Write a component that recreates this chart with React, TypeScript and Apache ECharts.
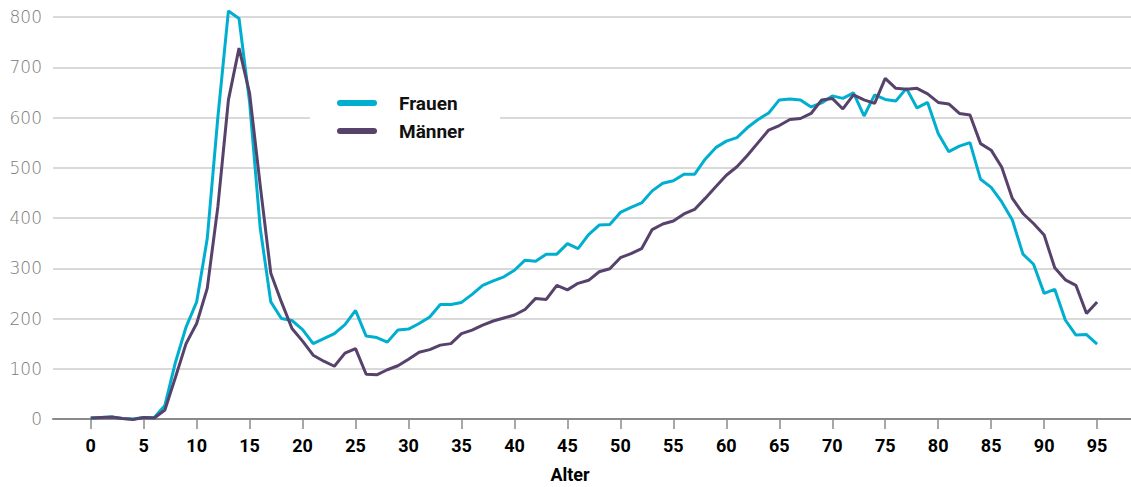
import React, { useEffect, useRef } from "react";
import * as echarts from "echarts";

const ages: number[] = Array.from({ length: 96 }, (_, i) => i);
const xTickValues = [0, 5, 10, 15, 20, 25, 30, 35, 40, 45, 50, 55, 60, 65, 70, 75, 80, 85, 90, 95];
const yTicks = [0, 100, 200, 300, 400, 500, 600, 700, 800];

const frauen = [
  2, 3, 4, 1, 0, 3, 3, 27, 113, 183,
  233, 359, 600, 812, 797, 630, 380, 233, 200, 196,
  178, 150, 160, 170, 188, 216, 165, 162, 153, 177,
  179, 190, 203, 228, 228, 232, 248, 266, 275, 283,
  296, 316, 314, 328, 328, 349, 339, 367, 386, 387,
  411, 421, 430, 454, 469, 474, 487, 487, 517, 540,
  553, 560, 580, 596, 609, 635, 637, 635, 621, 629,
  643, 638, 649, 603, 645, 636, 633, 658, 619, 630,
  568, 532, 543, 550, 477, 461, 432, 396, 328, 308,
  250, 258, 197, 167, 168, 149,
];

const maenner = [
  2, 3, 4, 1, -1, 3, 2, 18, 83, 150,
  190, 260, 422, 635, 738, 648, 465, 290, 233, 180,
  155, 127, 115, 105, 131, 140, 89, 88, 98, 106,
  119, 133, 138, 147, 150, 170, 177, 187, 195, 201,
  207, 218, 240, 238, 266, 257, 270, 276, 293, 299,
  321, 329, 339, 377, 388, 394, 408, 417, 439, 462,
  485, 502, 525, 550, 575, 584, 596, 598, 608, 635,
  638, 617, 645, 635, 628, 678, 658, 656, 658, 647,
  630, 627, 608, 605, 548, 535, 501, 439, 409, 389,
  366, 301, 277, 266, 210, 233,
];

const seriesNames = ["Frauen", "Männer"];
const colors = ["#00AFD0", "#56426B"];
const xAxisTitle = "Alter";

const legendIcon =
  "path://M3,0 L37,0 A3,3 0 0 1 37,6 L3,6 A3,3 0 0 1 3,0 Z";

export default function App() {
  const ref = useRef<HTMLDivElement>(null);

  useEffect(() => {
    document.body.style.margin = "0";
    if (!ref.current) return;
    const chart = echarts.init(ref.current, undefined, { renderer: "svg" });
    const boldFont = "Roboto, 'Noto Sans', sans-serif";
    chart.setOption({
      animation: false,
      backgroundColor: "#ffffff",
      grid: { left: 53, right: 0, top: 17, bottom: 68, containLabel: false },
      legend: {
        show: true,
        orient: "vertical",
        left: 337,
        top: 93,
        padding: 0,
        itemWidth: 40,
        itemHeight: 6,
        itemGap: 8,
        icon: legendIcon,
        data: seriesNames,
        textStyle: {
          fontFamily: boldFont,
          fontWeight: "bold",
          fontSize: 19,
          lineHeight: 20,
          color: "#111111",
          padding: [0, 0, 0, 17],
        },
      },
      xAxis: {
        type: "value",
        min: -3.56,
        max: 98.2,
        axisLine: { show: true, lineStyle: { color: "#8a8a8a", width: 2 } },
        axisTick: {
          show: true,
          length: 10,
          customValues: xTickValues,
          lineStyle: { color: "#8a8a8a", width: 1.5 },
        },
        axisLabel: {
          customValues: xTickValues,
          margin: 17,
          color: "#000000",
          fontFamily: boldFont,
          fontWeight: "bold",
          fontSize: 18,
        },
        splitLine: { show: false },
      },
      yAxis: {
        type: "value",
        min: 0,
        max: 800,
        interval: 100,
        axisLine: { show: false },
        axisTick: { show: false },
        axisLabel: {
          margin: 11,
          color: "#7a7a7a",
          fontFamily: "'DejaVu Sans', sans-serif",
          fontWeight: 300,
          fontSize: 17,
          formatter: (v: number) => (yTicks.includes(v) ? String(v) : ""),
        },
        splitLine: { show: true, lineStyle: { color: "#cdcdcd", width: 1.5 } },
      },
      graphic: [
        {
          type: "rect",
          z: 1,
          shape: { x: 310, y: 80, width: 190, height: 75 },
          style: { fill: "#ffffff" },
        },
        {
          type: "text",
          x: 570,
          y: 474,
          z: 5,
          style: {
            text: xAxisTitle,
            fontFamily: boldFont,
            fontWeight: "bold",
            fontSize: 18,
            fill: "#000000",
            align: "center",
            verticalAlign: "middle",
          },
        },
      ],
      series: [
        {
          name: seriesNames[0],
          type: "line",
          clip: false,
          data: ages.map((a, i) => [a, frauen[i]]),
          showSymbol: false,
          symbol: "none",
          lineStyle: { color: colors[0], width: 3 },
          itemStyle: { color: colors[0] },
          z: 2,
        },
        {
          name: seriesNames[1],
          type: "line",
          clip: false,
          data: ages.map((a, i) => [a, maenner[i]]),
          showSymbol: false,
          symbol: "none",
          lineStyle: { color: colors[1], width: 3 },
          itemStyle: { color: colors[1] },
          z: 3,
        },
      ],
    });
    return () => chart.dispose();
  }, []);

  return <div ref={ref} style={{ width: 1131, height: 487 }} />;
}
